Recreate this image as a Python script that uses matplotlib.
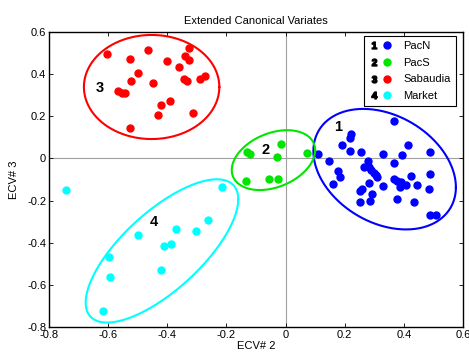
import numpy as np
import matplotlib
matplotlib.use("Agg")
import matplotlib.pyplot as plt
from matplotlib.lines import Line2D
from matplotlib.legend_handler import HandlerTuple

plt.rcParams['font.family'] = ['Liberation Sans', 'DejaVu Sans']
plt.rcParams['axes.unicode_minus'] = False
plt.rcParams['mathtext.fontset'] = 'custom'
plt.rcParams['mathtext.bf'] = 'Liberation Sans:bold'
plt.rcParams['mathtext.rm'] = 'Liberation Sans'

# group names and colours
names = ['PacN', 'PacS', 'Sabaudia', 'Market']
colors = ['#0000ff', '#00e600', '#ff0000', '#00ffff']

# PacN (group 1)
x1 = [0.368, 0.222, 0.218, 0.190, 0.414, 0.219, 0.255, 0.330, 0.394, 0.487,
      0.111, 0.146, 0.278, 0.368, 0.266, 0.282, 0.290, 0.299, 0.178, 0.489,
      0.423, 0.306, 0.310, 0.184, 0.367, 0.378, 0.390, 0.281, 0.161, 0.330,
      0.407, 0.443, 0.387, 0.260, 0.252, 0.486, 0.291, 0.376, 0.251, 0.286,
      0.434, 0.487, 0.509]
y1 = [0.178, 0.114, 0.095, 0.062, 0.062, 0.034, 0.030, 0.021, 0.018, 0.030,
      0.021, -0.012, -0.014, -0.020, -0.042, -0.042, -0.055, -0.068, -0.060, -0.074,
      -0.082, -0.079, -0.090, -0.090, -0.096, -0.106, -0.112, -0.118, -0.121, -0.131,
      -0.128, -0.128, -0.137, -0.147, -0.153, -0.147, -0.170, -0.194, -0.208, -0.204,
      -0.208, -0.267, -0.270]

# PacS (group 2)
x2 = [-0.130, -0.120, -0.016, -0.030, 0.074, -0.135, -0.056, -0.025]
y2 = [0.029, 0.020, 0.067, 0.008, 0.024, -0.107, -0.099, -0.099]

# Sabaudia (group 3)
x3 = [-0.604, -0.464, -0.527, -0.327, -0.339, -0.326, -0.400, -0.359, -0.498, -0.522,
      -0.449, -0.344, -0.332, -0.288, -0.273, -0.567, -0.554, -0.542, -0.391, -0.422,
      -0.432, -0.312, -0.525]
y3 = [0.494, 0.513, 0.472, 0.525, 0.486, 0.469, 0.464, 0.435, 0.407, 0.366,
      0.358, 0.378, 0.366, 0.378, 0.391, 0.319, 0.310, 0.309, 0.273, 0.255,
      0.205, 0.214, 0.144]

# Market (group 4)
x4 = [-0.741, -0.215, -0.262, -0.370, -0.303, -0.499, -0.387, -0.411, -0.596, -0.420,
      -0.593, -0.616]
y4 = [-0.151, -0.136, -0.292, -0.336, -0.344, -0.365, -0.406, -0.416, -0.469, -0.530,
      -0.563, -0.723]

# ellipse: centre x, centre y, half width, half height, cos of phase
ell_cx = [0.335, -0.041, -0.453, -0.418]
ell_cy = [-0.051, -0.008, 0.339, -0.439]
ell_wx = [0.241, 0.141, 0.229, 0.258]
ell_hy = [0.286, 0.142, 0.247, 0.340]
ell_c = [-0.30, 0.33, 0.0, 0.72]

# group number labels
lab_x = [0.178, -0.069, -0.630, -0.447]
lab_y = [0.148, 0.040, 0.334, -0.300]

ticks = [-0.8, -0.6, -0.4, -0.2, 0, 0.2, 0.4, 0.6]
tick_labels = ['-0.8', '-0.6', '-0.4', '-0.2', '0', '0.2', '0.4', '0.6']

xs = [x1, x2, x3, x4]
ys = [y1, y2, y3, y4]

fig = plt.figure(figsize=(4.69, 3.58), dpi=100)
ax = fig.add_axes([0.1045, 0.0866, 0.8827, 0.824])

ax.axhline(0, color='#a0a0a0', lw=0.8, zorder=0)
ax.axvline(0, color='#a0a0a0', lw=0.8, zorder=0)

t = np.linspace(0, 2*np.pi, 300)
handles = []
for i in range(4):
    ax.plot(xs[i], ys[i], 'o', color=colors[i], ms=5, mec=colors[i])
    phi = np.arccos(ell_c[i])
    ex = ell_cx[i] + ell_wx[i]*np.cos(t)
    ey = ell_cy[i] + ell_hy[i]*np.cos(t + phi)
    ax.plot(ex, ey, '-', color=colors[i], lw=1.5)
    ax.text(lab_x[i], lab_y[i], str(i+1), fontsize=10.5, fontweight='bold',
            ha='center', va='center')
    # legend handle = bold group number + coloured dot
    num = Line2D([], [], ls='none', marker=r'$\mathbf{%d}$' % (i+1), color='k', ms=5)
    dot = Line2D([], [], ls='none', marker='o', color=colors[i], ms=5)
    handles.append((num, dot))

leg = ax.legend(handles, names, loc='upper right', bbox_to_anchor=(0.983, 0.986),
                borderaxespad=0, fontsize=8,
                handler_map={tuple: HandlerTuple(ndivide=None, pad=0.3)},
                handlelength=2.0, handletextpad=1.1, labelspacing=0.6, fancybox=False,
                framealpha=1, edgecolor='k', borderpad=0.45)
leg.get_frame().set_linewidth(0.8)

ax.set_xlim(-0.8, 0.6)
ax.set_ylim(-0.8, 0.6)
ax.set_xticks(ticks)
ax.set_xticklabels(tick_labels)
ax.set_yticks(ticks)
ax.set_yticklabels(tick_labels)
ax.tick_params(direction='in', length=3, width=0.6, labelsize=8, top=True, right=True, pad=2)
for s in ax.spines.values():
    s.set_linewidth(1.0)

ax.set_xlabel('ECV# 2', fontsize=8, labelpad=1)
ax.set_ylabel('ECV# 3', fontsize=8, labelpad=6)
ax.set_title('Extended Canonical Variates', fontsize=8, pad=6)

fig.savefig('out.png', dpi=100)
